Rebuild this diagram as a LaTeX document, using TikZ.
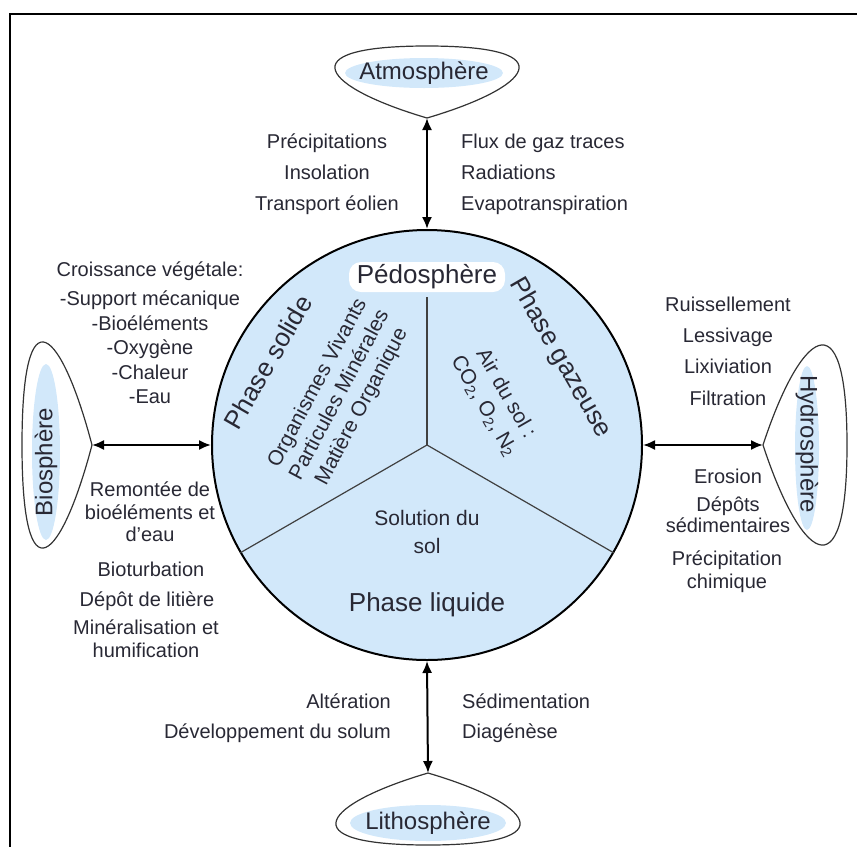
\documentclass[tikz,border=0pt]{standalone}
\usepackage{fontspec}
\setmainfont{Liberation Sans}
\usetikzlibrary{arrows.meta}
\usetikzlibrary{positioning}
\usetikzlibrary{shapes.geometric}
\definecolor{pedobleu}{RGB}{210,232,250}
\definecolor{encre}{RGB}{40,40,52}
\tikzset{
	>={Latex[length=12pt,width=10pt]},
	fleche/.style={draw, line width=2pt, <->},
	ballon/.style={draw=black!80, line width=1.2pt},
	sphere/.style={
		ellipse,
		fill=pedobleu,
		inner sep=0pt},
	nomsphere/.style={text=encre, inner sep=0pt, font=\fontsize{24}{28}\selectfont},
	phase/.style={text=encre, inner sep=0pt, font=\fontsize{26}{30}\selectfont},
	liste/.style={text=encre, align=center, inner sep=0pt, font=\fontsize{20}{31}\selectfont},
	interne/.style={text=encre, align=center, inner sep=0pt, font=\fontsize{21}{25}\selectfont},
	trait/.style={draw=black!75, line width=1.2pt},
}

\begin{document}
\begin{tikzpicture}
			[x=1pt, y=1pt]
			\useasboundingbox (0,0) rectangle (857,-847);
			\draw[line width=2pt] (857,-14) -- (10,-14) -- (10,-847);
			% les quatre spheres
			\coordinate (atmopointe) at (427,-118);
			\coordinate (biopointe) at (92,-445);
			\coordinate (hydropointe) at (763,-445);
			\coordinate (lithopointe) at (428,-773);
			\draw[ballon] (atmopointe) .. controls (325,-88) and (285,-46) .. (427,-46)
				.. controls (569,-46) and (529,-88) .. (atmopointe);
			\draw[ballon] (biopointe) .. controls (62,-331) and (22,-286) .. (22,-445)
				.. controls (22,-604) and (62,-559) .. (biopointe);
			\draw[ballon] (hydropointe) .. controls (799,-335) and (847,-290) .. (847,-445)
				.. controls (847,-600) and (799,-555) .. (hydropointe);
			\draw[ballon] (lithopointe) .. controls (326,-803) and (286,-845) .. (428,-845)
				.. controls (570,-845) and (530,-803) .. (lithopointe);
			\node[sphere, minimum width=158, minimum height=30] (atmo) at (424,-73) {};
			\node[sphere, minimum width=28, minimum height=176] (bio) at (46,-452) {};
			\node[sphere, minimum width=24, minimum height=164] (hydro) at (807,-448) {};
			\node[sphere, minimum width=156, minimum height=36] (litho) at (428,-823) {};
			\node[nomsphere] at (atmo) {Atmosphère};
			\node[nomsphere, rotate=90] at ([yshift=-10pt]bio.center) {Biosphère};
			\node[nomsphere, rotate=-90] at ([yshift=4pt]hydro.center) {Hydrosphère};
			\node[nomsphere] at (litho) {Lithosphère};
			% pedosphere
			\node[circle, draw, line width=2pt, fill=pedobleu, minimum size=430, inner sep=0pt] (pedo) at (427,-445) {};
			\node[phase, fill=white, rounded corners=12pt, minimum width=156, minimum height=30] (titre) at (427,-277) {Pédosphère};
			\draw[trait] (pedo.center) -- ([yshift=-5pt]titre.south);
			\draw[trait] (pedo.center) -- (pedo.210);
			\draw[trait] (pedo.center) -- (pedo.330);
			\node[phase, rotate=60] (solide) at (268,-362) {Phase solide};
			\node[phase, rotate=-60] (gaz) at (560,-358) {Phase gazeuse};
			\node[phase] (liquide) at (427,-605) {Phase liquide};
			\node[interne, rotate=62] (organismes) at (340,-395) {Organismes Vivants\\Particules Minérales\\Matière Organique};
			\node[interne, rotate=-60] (air) at (495,-400) {Air du sol :\\CO\textsubscript{2}, O\textsubscript{2}, N\textsubscript{2}};
			\node[interne, font=\fontsize{21}{28}\selectfont] (solution) at (427,-532) {Solution du\\sol};
			% fleches
			\draw[fleche] (atmopointe) -- (pedo.north);
			\draw[fleche] (biopointe) -- (pedo.west);
			\draw[fleche] (pedo.east) -- (hydropointe);
			\draw[fleche] (pedo.south) -- (lithopointe);
			% echanges
			\node[liste] (precip) at (327,-174) {Précipitations\\Insolation\\Transport éolien};
			\node[liste, anchor=west, align=left] (flux) at (461,-174) {Flux de gaz traces\\Radiations\\Evapotranspiration};
			\node[liste, font=\fontsize{20}{24.5}\selectfont] (croissance) at (150,-333) {Croissance végétale:\\[4.5pt]-Support mécanique\\-Bioéléments\\-Oxygène\\-Chaleur\\-Eau};
			\node[liste, font=\fontsize{20}{22.5}\selectfont] (remontee) at (150,-512) {Remontée de\\bioéléments et\\d'eau};
			\node[liste] (bioturb) at (151,-569) {Bioturbation};
			\node[liste] (litiere) at (147,-601) {Dépôt de litière};
			\node[liste, font=\fontsize{20}{23}\selectfont] (mineral) at (146,-639) {Minéralisation et\\humification};
			\node[liste, font=\fontsize{20}{31.3}\selectfont] (ruissel) at (728,-351) {Ruissellement\\Lessivage\\Lixiviation\\Filtration};
			\node[liste] (erosion) at (728,-476) {Erosion};
			\node[liste, font=\fontsize{20}{21}\selectfont] (depots) at (728,-515) {Dépôts\\sédimentaires};
			\node[liste, font=\fontsize{20}{23}\selectfont] (chimique) at (727,-572) {Précipitation\\chimique};
			\node[liste, anchor=east, align=right, font=\fontsize{20}{30}\selectfont] (alteration) at (391,-718) {Altération\\Développement du solum};
			\node[liste, anchor=west, align=left, font=\fontsize{20}{30}\selectfont] (sediment) at (462,-718) {Sédimentation\\Diagénèse};
\end{tikzpicture}
\end{document}
